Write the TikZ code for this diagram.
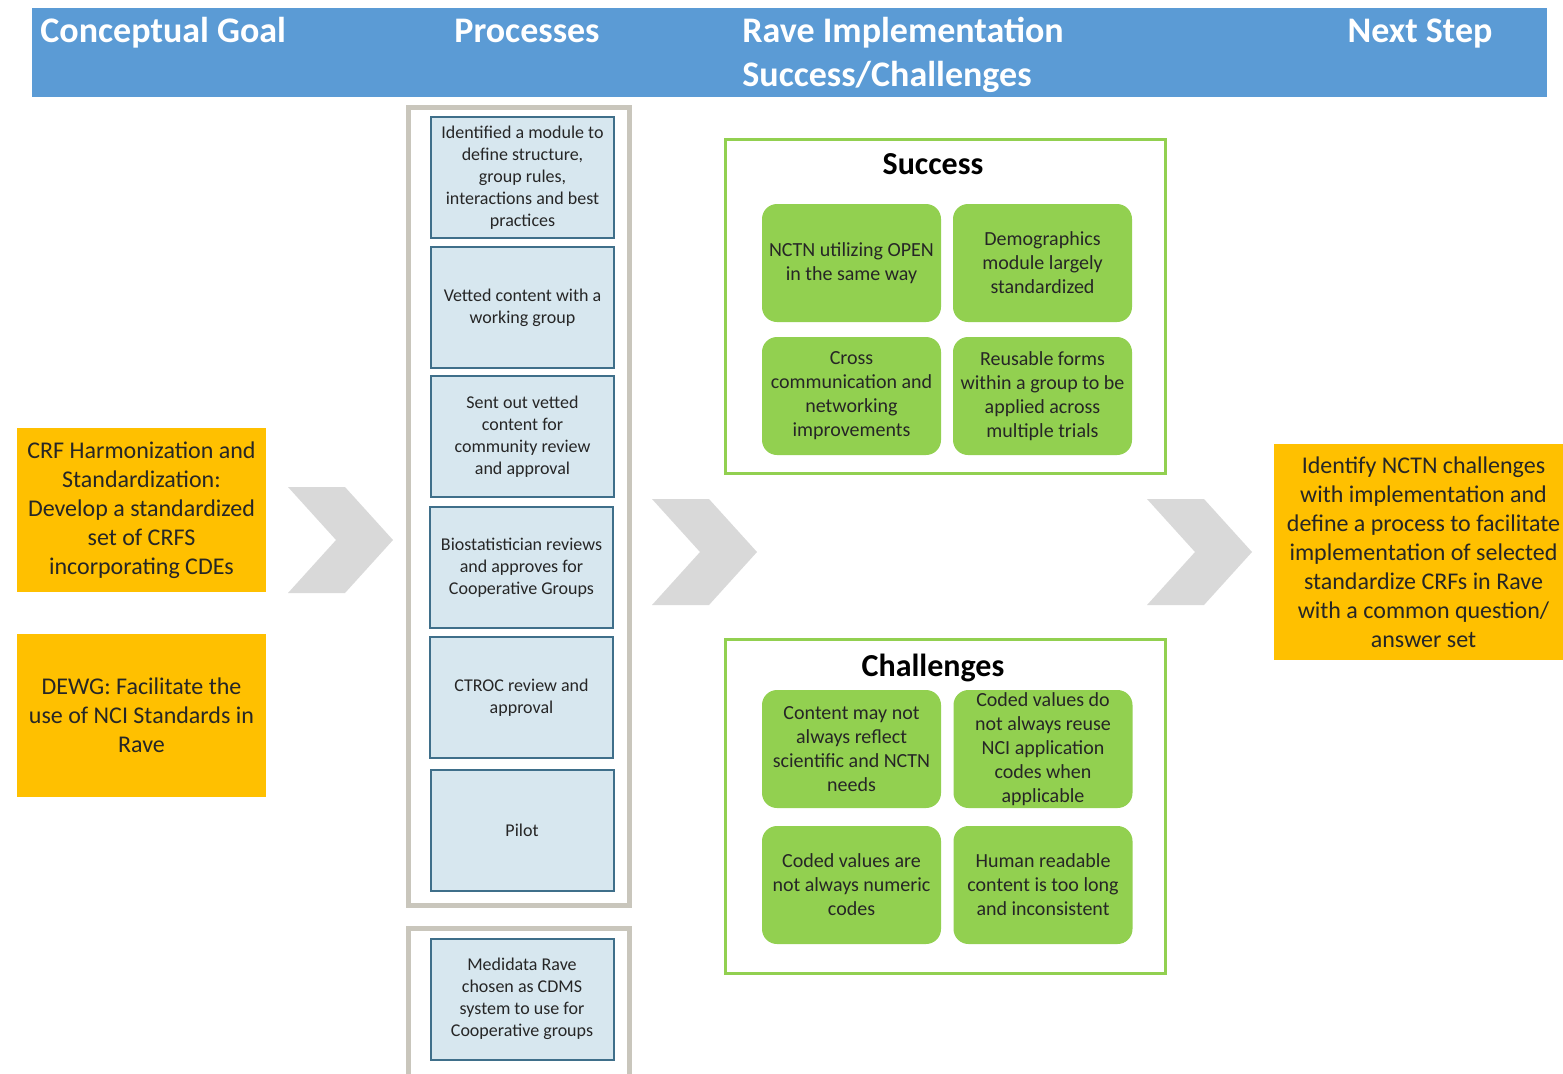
\documentclass[tikz,border=0pt]{standalone}
\usepackage{fontspec}
\setmainfont{Carlito}
\usetikzlibrary{calc}
\definecolor{headblue}{HTML}{5B9BD5}
\definecolor{goalorange}{HTML}{FFC000}
\definecolor{ravegreen}{HTML}{92D050}
\definecolor{procfill}{HTML}{D7E7EF}
\definecolor{procline}{HTML}{3F6F8A}
\definecolor{framegray}{HTML}{C9C6BC}
\definecolor{chevgray}{HTML}{D9D9D9}
\definecolor{inktext}{HTML}{262626}
\tikzset{
  headtext/.style={text=white, font=\fontsize{18}{22}\selectfont\bfseries, inner sep=0pt},
  procbox/.style={draw=procline, line width=1pt, fill=procfill, text=inktext, align=center,
    minimum width=91.5pt, minimum height=60.5pt, inner sep=1pt, font=\fontsize{9}{11}\selectfont},
  goalbox/.style={fill=goalorange, text=inktext, align=center, inner sep=1pt,
    font=\fontsize{12}{14.5}\selectfont},
  goodbox/.style={fill=ravegreen, rounded corners=7.5pt, text=inktext, align=center,
    minimum width=89.5pt, minimum height=59pt, inner sep=1pt, font=\fontsize{10}{12}\selectfont},
  ravetitle/.style={text=black, font=\fontsize{16}{18}\selectfont\bfseries, inner sep=0pt},
  raveframe/.style={draw=ravegreen, line width=1.5pt},
  procframe/.style={draw=framegray, line width=2.5pt}
}
\newcommand{\procstep}[4]{\node[procbox] (#1) at ( #2 , #3 ) {#4};}
\newcommand{\ravecell}[4]{\node[goodbox] (#1) at ( #2 , #3 ) {#4};}
\newcommand{\chevron}[2]{\fill[chevgray] ( #1 , #2 ) -- ++(57,0) -- ++(48,53) -- ++(-48,53) -- ++(-57,0) -- ++(48,-53) -- cycle;}

\begin{document}
\begin{tikzpicture}[x=0.5pt, y=-0.5pt]
        \useasboundingbox (0,0) rectangle (1563,1073);
        % header bar
        \fill[headblue] (32,8) rectangle (1547,97);
        \node[headtext, anchor=base west] (hgoal) at (40,42) {Conceptual Goal};
        \node[headtext, anchor=base] (hproc) at (527,42) {Processes};
        \node[headtext, anchor=base west] (hrave) at (742,42) {Rave Implementation};
        \node[headtext, anchor=base west] (hrave2) at (742,86) {Success/Challenges};
        \node[headtext, anchor=base] (hnext) at (1420,42) {Next Step};

        % conceptual goals
        \node[goalbox, minimum width=124.5pt, minimum height=82pt] (goal1) at (141.5,510) {CRF Harmonization and\\Standardization:\\Develop a standardized\\set of CRFS\\incorporating CDEs};
        \node[goalbox, minimum width=124.5pt, minimum height=81.5pt] (goal2) at (141.5,715.5) {DEWG: Facilitate the\\use of NCI Standards in\\Rave};

        % processes
        \draw[procframe] (408.5,107.5) rectangle (629.5,905.5);
        \draw[procframe] (408.5,928.5) rectangle (629.5,1085);
        \procstep{p1}{522.5}{177.5}{Identified a module to\\define structure,\\group rules,\\interactions and best\\practices}
        \procstep{p2}{522.5}{307.5}{Vetted content with a\\working group}
        \procstep{p3}{522.5}{436.5}{Sent out vetted\\content for\\community review\\and approval}
        \procstep{p4}{521.5}{567.5}{Biostatistician reviews\\and approves for\\Cooperative Groups}
        \procstep{p5}{521.5}{697.5}{CTROC review and\\approval}
        \procstep{p6}{522}{830.5}{Pilot}
        \procstep{p7}{522}{999}{Medidata Rave\\chosen as CDMS\\system to use for\\Cooperative groups}

        % chevrons
        \chevron{288}{487}
        \chevron{652}{499}
        \chevron{1147}{499}

        % success
        \draw[raveframe] (725.5,139.5) rectangle (1165.5,473.5);
        \node[ravetitle] (succ) at (933,164) {Success};
        \ravecell{s1}{851.5}{263}{NCTN utilizing OPEN\\in the same way}
        \ravecell{s2}{1042.5}{263}{Demographics\\module largely\\standardized}
        \ravecell{s3}{851.5}{396}{Cross\\communication and\\networking\\improvements}
        \ravecell{s4}{1042.5}{396}{Reusable forms\\within a group to be\\applied across\\multiple trials}

        % challenges
        \draw[raveframe] (725.5,639.5) rectangle (1165.5,973.5);
        \node[ravetitle] (chal) at (933,668) {Challenges};
        \ravecell{c1}{851.5}{749}{Content may not\\always reflect\\scientific and NCTN\\needs}
        \ravecell{c2}{1043}{749}{Coded values do\\not always reuse\\NCI application\\codes when\\applicable}
        \ravecell{c3}{851.5}{885}{Coded values are\\not always numeric\\codes}
        \ravecell{c4}{1043}{885}{Human readable\\content is too long\\and inconsistent}

        % next step
        \node[goalbox, minimum width=149.5pt, minimum height=108pt] (next) at (1423.5,552) {Identify NCTN challenges\\with implementation and\\define a process to facilitate\\implementation of selected\\standardize CRFs in Rave\\with a common question/\\answer set};
    \end{tikzpicture}
\end{document}
